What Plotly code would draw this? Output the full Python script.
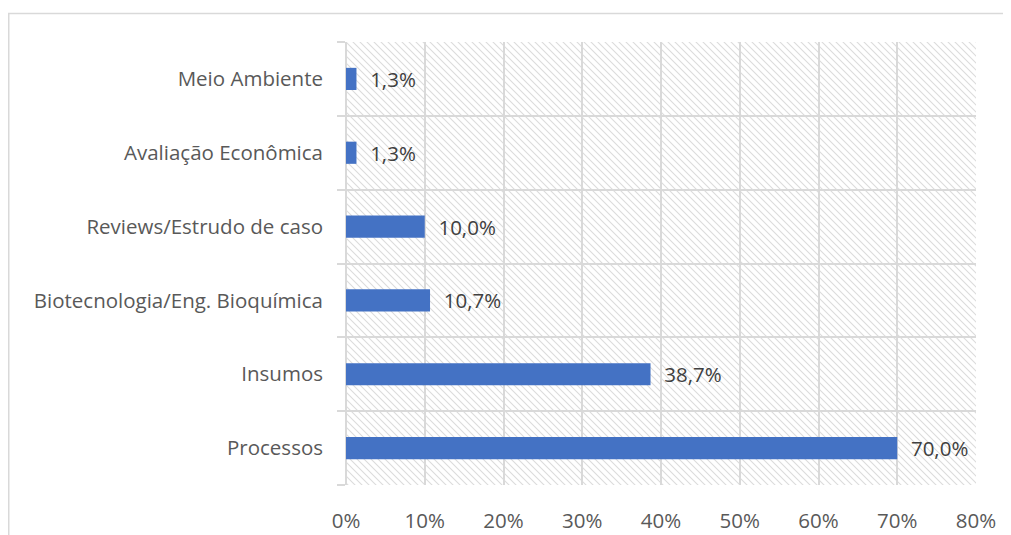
import base64
import plotly.graph_objects as go

categories = ["Processos", "Insumos", "Biotecnologia/Eng. Bioquímica",
              "Reviews/Estrudo de caso", "Avaliação Econômica", "Meio Ambiente"]
values = [0.700, 0.3867, 0.1067, 0.100, 0.0133, 0.0133]
x_ticks = [0, 0.1, 0.2, 0.3, 0.4, 0.5, 0.6, 0.7, 0.8]

# page has an 8px body margin, so figure coordinates are page - 8
W, H = 1003, 527
ML, MR, MT, MB = 338, 35, 34, 50
PW, PH = W - ML - MR, H - MT - MB

FONT = "Open Sans"
FS = 20.5
GREY = "#595959"
LINE = "#d9d9d9"

T = 7
svg = f'''<svg xmlns="http://www.w3.org/2000/svg" width="{PW}" height="{PH}">
<defs><pattern id="p" width="{T}" height="{T}" patternUnits="userSpaceOnUse">
<path d="M-1,-1 L{T+1},{T+1} M-1,{T-1} L1,{T+1} M{T-1},-1 L{T+1},1" stroke="#dcdcdc" stroke-width="1.1"/>
</pattern></defs>
<rect width="{PW}" height="{PH}" fill="white"/>
<rect width="{PW}" height="{PH}" fill="url(#p)"/></svg>'''
src = "data:image/svg+xml;base64," + base64.b64encode(svg.encode()).decode()

ypos = list(range(len(categories)))

fig = go.Figure(go.Bar(
    x=values, y=ypos, orientation="h", width=0.3,
    marker=dict(color="#4472C4", line=dict(width=0)),
    texttemplate="\u00a0\u00a0%{x:.1%}", textposition="outside",
    constraintext="none",
    textfont=dict(family=FONT, size=FS, color="#404040"),
    cliponaxis=False,
))

fig.update_layout(
    width=W, height=H,
    margin=dict(l=ML, r=MR, t=MT, b=MB),
    paper_bgcolor="white", plot_bgcolor="rgba(0,0,0,0)",
    separators=",.",
    showlegend=False,
    font=dict(family=FONT, size=FS, color=GREY),
    images=[dict(source=src, xref="paper", yref="paper", x=0, y=1,
                 sizex=1, sizey=1, sizing="stretch", layer="below",
                 xanchor="left", yanchor="top")],
    shapes=[dict(type="rect", xref="paper", yref="paper",
                 x0=(0.75 - ML) / PW, x1=1.2, y0=-0.3, y1=(H - MB - 5.5) / PH,
                 line=dict(color=LINE, width=1.5), fillcolor="rgba(0,0,0,0)",
                 layer="below")],
)

fig.update_xaxes(
    range=[0, 0.8], tickvals=x_ticks, tickformat=".0%",
    showgrid=True, gridcolor=LINE, gridwidth=1.5,
    zeroline=True, zerolinecolor=LINE, zerolinewidth=1.5,
    showline=False, ticks="", ticklabelstandoff=21, automargin=False,
    tickfont=dict(family=FONT, size=FS, color=GREY),
)

fig.update_yaxes(
    range=[-0.5, len(categories) - 0.5],
    tickvals=ypos, ticktext=categories,
    showgrid=False, zeroline=False, showline=False, ticks="",
    ticklabelstandoff=22, automargin=False,
    tickfont=dict(family=FONT, size=FS, color=GREY),
    minor=dict(tickvals=[i - 0.5 for i in range(len(categories) + 1)],
               ticks="outside", ticklen=8, tickcolor=LINE, tickwidth=1.5,
               showgrid=True, gridcolor=LINE, gridwidth=1.5),
)

fig.write_html("out.html")
